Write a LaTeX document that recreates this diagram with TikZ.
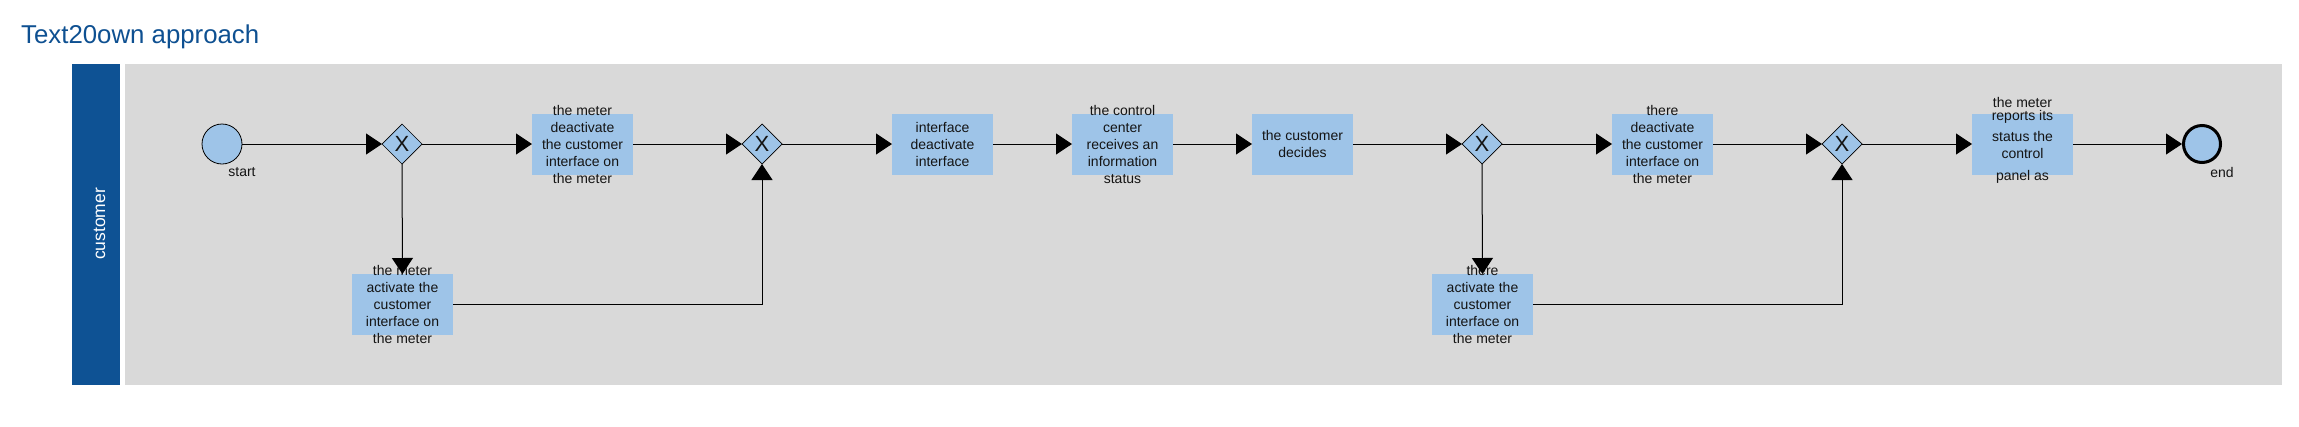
\documentclass[tikz,border=0pt]{standalone}
\usepackage{fontspec}
\setmainfont{Liberation Sans}
\usetikzlibrary{arrows.meta,shapes.geometric}
\definecolor{taskblue}{RGB}{158,196,232}
\definecolor{poolgray}{RGB}{217,217,217}
\definecolor{laneblue}{RGB}{14,82,148}
\definecolor{titleblue}{RGB}{14,80,145}
\definecolor{txt}{RGB}{20,20,20}
\tikzset{
  task/.style={rectangle, fill=taskblue, minimum width=101pt, minimum height=61pt, inner sep=0pt, outer sep=0pt},
  tasktext/.style={align=center, font=\fontsize{14}{17}\selectfont, text=txt, inner sep=0pt},
  gw/.style={diamond, draw=black, line width=0.7pt, fill=taskblue, minimum width=40pt, minimum height=40pt, inner sep=0pt, outer sep=0pt, font=\fontsize{22}{22}\selectfont, text=txt},
  startev/.style={circle, draw=black, line width=0.8pt, fill=taskblue, minimum size=40pt, inner sep=0pt},
  endev/.style={circle, draw=black, line width=3pt, fill=taskblue, minimum size=37pt, inner sep=0pt},
  flow/.style={line width=1pt, draw=black, -{Triangle[length=16pt,width=21pt]}},
  evlabel/.style={font=\fontsize{14}{17}\selectfont, text=txt, inner sep=0pt}
}
\begin{document}
\begin{tikzpicture}[x=1pt,y=-1pt]
\useasboundingbox (0,0) rectangle (2299,426);
% title
\node[anchor=base west, font=\fontsize{25.8}{30}\selectfont, text=titleblue, inner sep=0pt] (title) at (21,43) {Text20own approach};
% pool and lane
\fill[poolgray] (125,64) rectangle (2282,385);
\fill[laneblue] (72,64) rectangle (120,385);
\node[rotate=90, font=\fontsize{17.5}{20}\selectfont, text=white, inner sep=0pt] (lanelbl) at (99.5,224) {customer};
% events
\node[startev] (s) at (222,144) {};
\node[evlabel] (slbl) at (242,172) {start};
\node[endev] (e) at (2202,144) {};
\node[evlabel] (elbl) at (2222,172) {end};
% gateways
\node[gw] (g1) at (402,144) {X};
\node[gw] (g2) at (762,144) {X};
\node[gw] (g3) at (1482,144) {X};
\node[gw] (g4) at (1842,144) {X};
% tasks
\node[task, label={[tasktext]center:the meter\\deactivate\\the customer\\interface on\\the meter}] (t1) at (582.5,144) {};
\node[task, label={[tasktext]center:the meter\\activate the\\customer\\interface on\\the meter}] (t1b) at (402.5,304.5) {};
\node[task, label={[tasktext]center:interface\\deactivate\\interface}] (t2) at (942.5,144) {};
\node[task, label={[tasktext]center:the control\\center\\receives an\\information\\status}] (t3) at (1122.5,144) {};
\node[task, label={[tasktext]center:the customer\\decides}] (t4) at (1302.5,144) {};
\node[task, label={[tasktext]center:there\\deactivate\\the customer\\interface on\\the meter}] (t5) at (1662.5,144) {};
\node[task, label={[tasktext]center:there\\activate the\\customer\\interface on\\the meter}] (t5b) at (1482.5,304.5) {};
\node[task, label={[tasktext, yshift=3.5pt]center:the meter\\[-4pt]reports its\\[4pt]status the\\control\\[5pt]panel as}] (t6) at (2022.5,144) {};
% flows
\draw[flow] (s) -- (g1);
\draw[flow] (g1) -- (t1);
\draw[flow] (g1.south) -- (t1b.north);
\draw[flow] (t1) -- (g2);
\draw[flow] (t1b.east) -| (g2.south);
\draw[flow] (g2) -- (t2);
\draw[flow] (t2) -- (t3);
\draw[flow] (t3) -- (t4);
\draw[flow] (t4) -- (g3);
\draw[flow] (g3) -- (t5);
\draw[flow] (g3.south) -- (t5b.north);
\draw[flow] (t5) -- (g4);
\draw[flow] (t5b.east) -| (g4.south);
\draw[flow] (g4) -- (t6);
\draw[flow] (t6) -- (e);
\end{tikzpicture}
\end{document}
